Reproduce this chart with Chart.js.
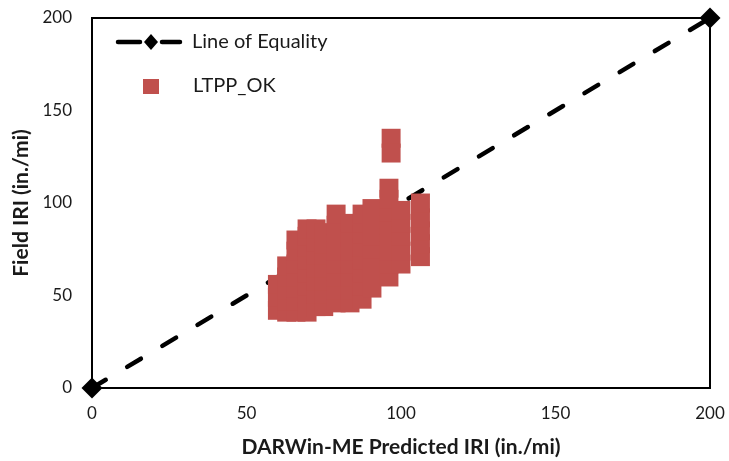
<!DOCTYPE html>
<html>
<head>
<meta charset="utf-8">
<script src="https://cdn.jsdelivr.net/npm/chart.js@4/dist/chart.umd.min.js"></script>
<style>
  html, body { margin: 0; padding: 0; background: #fff; }
  #c { display: block; }
</style>
</head>
<body>
<canvas id="c" width="729" height="461"></canvas>
<script>
// ---- data ----
const xTicks = [0, 50, 100, 150, 200];
const yTicks = [0, 50, 100, 150, 200];
const equalityX = [0, 200];
const equalityY = [0, 200];

// LTPP_OK observations (predicted IRI, field IRI)
const ltppX = [
  60, 60, 60,
  63, 63, 63, 63, 63,
  66, 66, 66, 66, 66, 66, 66,
  69.6, 69.6, 69.6, 69.6, 69.6, 69.6, 69.6, 69.6,
  72.5, 72.5, 72.5, 72.5, 72.5, 72.5, 72.5,
  75, 75, 75, 75, 75, 75, 75,
  79, 79, 79, 79, 79, 79, 79, 79,
  83.5, 83.5, 83.5, 83.5, 83.5, 83.5, 83.5,
  87.4, 87.4, 87.4, 87.4, 87.4, 87.4, 87.4, 87.4,
  90.6, 90.6, 90.6, 90.6, 90.6, 90.6, 90.6,
  96.1, 96.1, 96.1, 96.1, 96.1, 96.1, 96.1, 96.1,
  100, 100, 100, 100, 100,
  106.3, 106.3, 106.3, 106.3, 106.3,
  96.8, 96.8
];
const ltppY = [
  42, 49, 56,
  41, 47, 53, 60, 66,
  41, 47, 54, 60, 67, 74, 80,
  41, 48, 55, 62, 69, 76, 82, 86,
  44, 51, 58, 65, 72, 79, 86,
  44, 51, 58, 65, 72, 78, 84,
  46, 53, 60, 67, 74, 81, 88, 94,
  46, 53, 60, 67, 74, 81, 89,
  48, 55, 62, 69, 76, 83, 89, 94,
  54, 61, 68, 75, 82, 90, 97,
  60, 67, 74, 81, 88, 95, 102, 108,
  67, 74, 82, 89, 96,
  71, 78, 85, 92, 100,
  135, 127
];

const RED = '#c0504d';
const FONT = 'Lato, "Open Sans", "Liberation Sans", sans-serif';
const TEXT = '#1a1a1a';

const boxPlugin = {
  id: 'boxAndLegend',
  afterDraw(chart) {
    const ctx = chart.ctx;
    const a = chart.chartArea;
    ctx.save();
    ctx.strokeStyle = '#000';
    ctx.lineWidth = 2;
    ctx.strokeRect(a.left, a.top, a.right - a.left, a.bottom - a.top);
    ctx.restore();
  },
  afterDatasetsDraw(chart) {
    const ctx = chart.ctx;
    ctx.save();
    // legend: line of equality
    ctx.strokeStyle = '#000';
    ctx.lineWidth = 4.5;
    ctx.lineCap = 'round';
    ctx.beginPath();
    ctx.moveTo(118, 42); ctx.lineTo(140, 42);
    ctx.moveTo(162, 42); ctx.lineTo(180, 42);
    ctx.stroke();
    ctx.fillStyle = '#000';
    ctx.beginPath();
    ctx.moveTo(151, 34); ctx.lineTo(158, 42); ctx.lineTo(151, 50); ctx.lineTo(144, 42);
    ctx.closePath();
    ctx.fill();
    // legend: LTPP_OK
    ctx.fillStyle = RED;
    ctx.fillRect(143, 79, 16, 15);
    // texts
    ctx.fillStyle = TEXT;
    ctx.font = '20px ' + FONT;
    ctx.textBaseline = 'middle';
    ctx.textAlign = 'left';
    ctx.fillText('Line of Equality', 192, 42);
    ctx.fillText('LTPP_OK', 193, 86);
    ctx.restore();
  }
};

function zeroPad(s) {
  s.paddingTop = 0; s.paddingBottom = 0; s.paddingLeft = 0; s.paddingRight = 0;
}

new Chart(document.getElementById('c'), {
  type: 'scatter',
  data: {
    datasets: [
      {
        label: 'LTPP_OK',
        data: ltppX.map((x, i) => ({ x: x, y: ltppY[i] })),
        pointStyle: 'rect',
        pointRadius: 13.4,
        pointHoverRadius: 13.4,
        backgroundColor: RED,
        borderColor: RED,
        borderWidth: 0,
        order: 0
      },
      {
        label: 'Line of Equality',
        type: 'line',
        data: equalityX.map((x, i) => ({ x: x, y: equalityY[i] })),
        showLine: true,
        borderColor: '#000',
        borderWidth: 4.5,
        borderDash: [16, 25],
        borderCapStyle: 'round',
        pointStyle: 'rectRot',
        pointRadius: 10.5,
        pointBackgroundColor: '#000',
        pointBorderColor: '#000',
        pointBorderWidth: 0,
        fill: false,
        clip: false,
        order: 1
      }
    ]
  },
  plugins: [boxPlugin],
  options: {
    responsive: false,
    animation: false,
    events: [],
    layout: { padding: { left: 0, right: 19, top: 18, bottom: 0 } },
    plugins: {
      legend: { display: false },
      tooltip: { enabled: false }
    },
    scales: {
      x: {
        type: 'linear',
        min: 0, max: 200,
        afterBuildTicks: (s) => { s.ticks = xTicks.map(v => ({ value: v })); },
        afterFit: (s) => { s.height = 73; zeroPad(s); },
        grid: { display: false, drawTicks: false },
        border: { display: false },
        ticks: { padding: 15, color: TEXT, font: { family: FONT, size: 17 } },
        title: {
          display: true,
          text: 'DARWin-ME Predicted IRI (in./mi)',
          color: TEXT,
          font: { family: FONT, size: 21, weight: 'bold' },
          padding: { top: 0, bottom: 1 }
        }
      },
      y: {
        type: 'linear',
        min: 0, max: 200,
        afterBuildTicks: (s) => { s.ticks = yTicks.map(v => ({ value: v })); },
        afterFit: (s) => { s.width = 92; zeroPad(s); },
        grid: { display: false, drawTicks: false },
        border: { display: false },
        ticks: { padding: 20, color: TEXT, font: { family: FONT, size: 17 } },
        title: {
          display: true,
          text: 'Field IRI (in./mi)',
          color: TEXT,
          font: { family: FONT, size: 21, weight: 'bold' },
          padding: { top: 9, bottom: 0 }
        }
      }
    }
  }
});
</script>
</body>
</html>
